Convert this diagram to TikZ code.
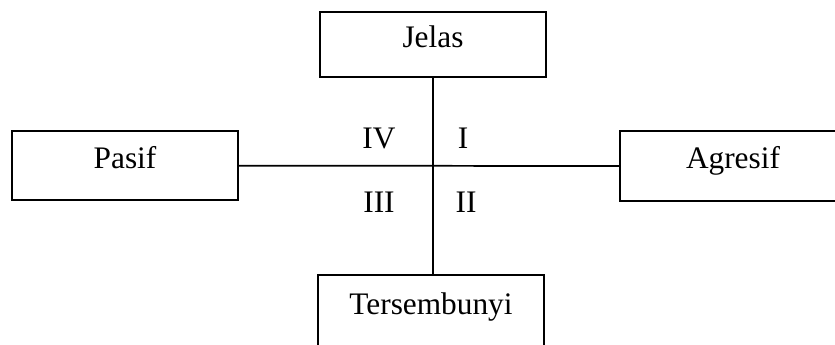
\documentclass[tikz,border=0pt]{standalone}
\usepackage{fontspec}
\setmainfont{Liberation Serif}
\begin{document}
\begin{tikzpicture}[x=0.75pt,y=-0.75pt,
  box/.style={draw,line width=1.3pt,rectangle,minimum width=169.5pt,minimum height=52pt,inner sep=0pt,
    font=\fontsize{23.5}{28}\selectfont,text height=0.7em,text depth=0.3em},
  quad/.style={inner sep=0pt,font=\fontsize{23.5}{28}\selectfont},
  conn/.style={line width=1.3pt}]
\useasboundingbox (0,0) rectangle (835,345);
\clip (0,0) rectangle (835,345);
\fill[white] (0,0) rectangle (835,345);
\node[box,minimum height=49pt] (jelas) at (433,44.5) {Jelas};
\node[box] (pasif) at (125,165.7) {Pasif};
\node[box] (agresif) at (733,166) {Agresif};
\node[box,minimum height=57pt,text depth=0.5em] (ters) at (431,313) {Tersembunyi};
\draw[conn] (pasif.east) -- (agresif.west);
\draw[conn] (jelas.south) -- (jelas.south |- ters.north);
\node[quad] (q4) at (379,138) {IV};
\node[quad] (q1) at (463,138) {I};
\node[quad] (q3) at (379,202) {III};
\node[quad] (q2) at (466,202) {II};
\end{tikzpicture}
\end{document}
